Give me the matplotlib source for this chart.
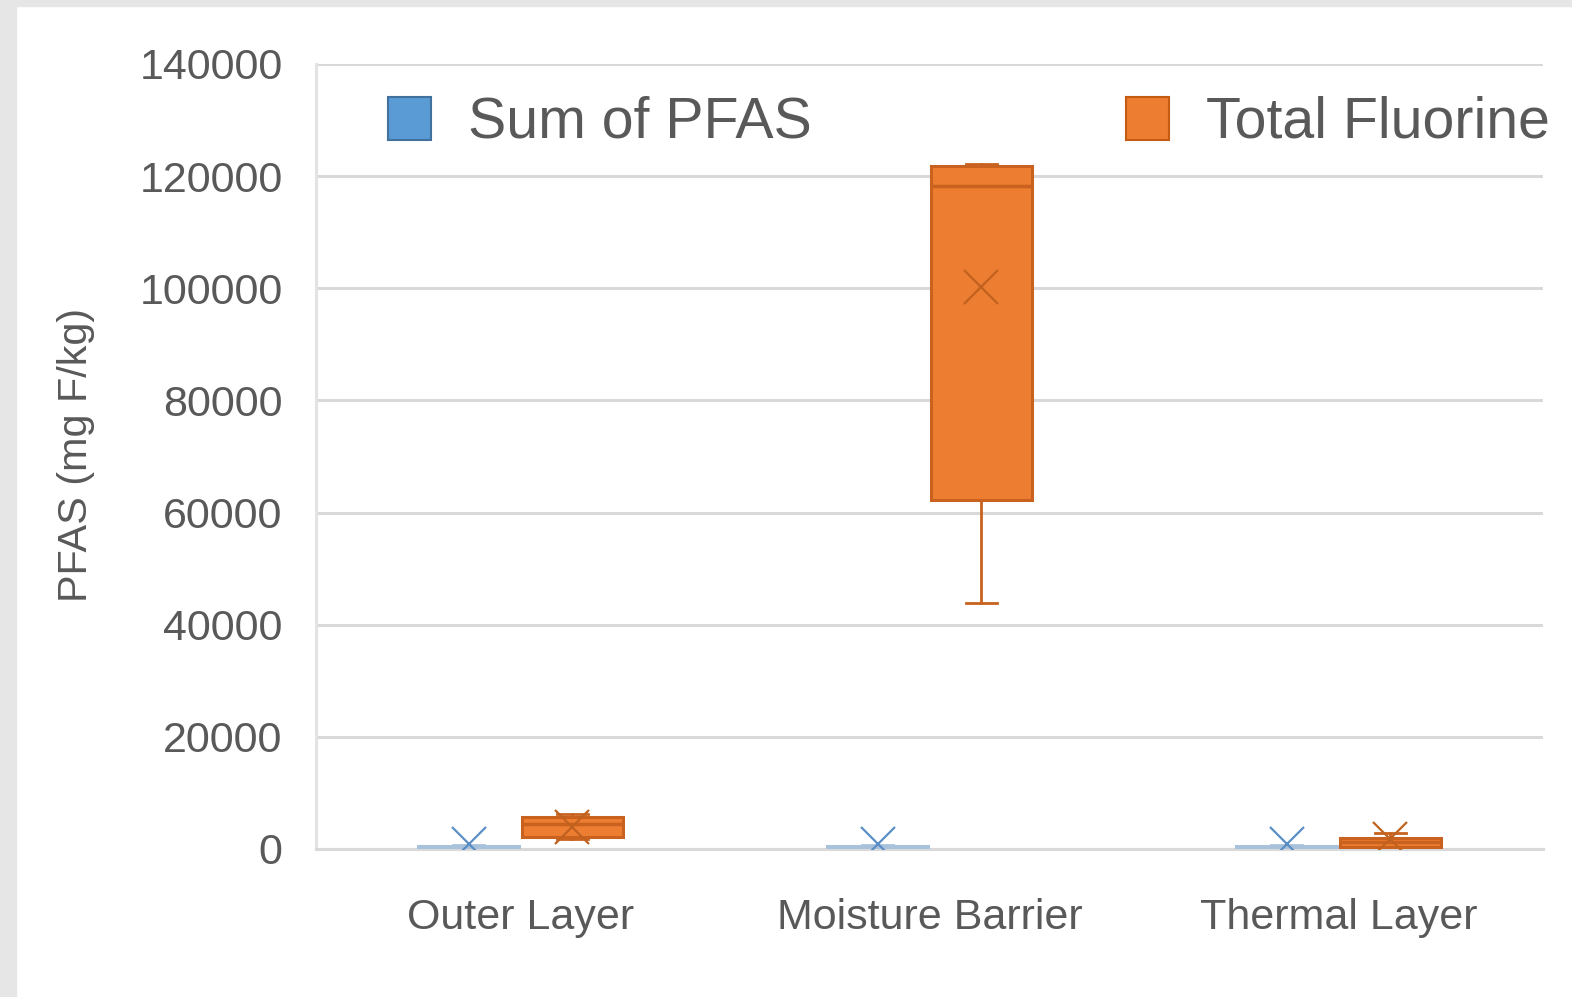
import matplotlib
matplotlib.use("Agg")
import matplotlib.pyplot as plt
from matplotlib.patches import Patch, Rectangle

# ---- data ----
categories = ["Outer Layer", "Moisture Barrier", "Thermal Layer"]
series = ["Sum of PFAS", "Total Fluorine"]
# box statistics per series: [Outer, Moisture, Thermal]
pfas_whislo = [0, 0, 0]
pfas_q1 = [100, 100, 100]
pfas_med = [250, 250, 250]
pfas_q3 = [500, 500, 500]
pfas_whishi = [700, 700, 700]
pfas_mean = [900, 900, 900]

tf_whislo = [1700, 43900, 300]
tf_q1 = [2100, 62200, 400]
tf_med = [4500, 118200, 1200]
tf_q3 = [5700, 121800, 2000]
tf_whishi = [6300, 122200, 2800]
tf_mean = [3900, 100200, 1800]

yticks = [0, 20000, 40000, 60000, 80000, 100000, 120000, 140000]

plt.rcParams['font.family'] = ['Liberation Sans', 'DejaVu Sans']
W, H = 1572, 997
fig = plt.figure(figsize=(W / 100, H / 100), dpi=100)
fig.patch.set_facecolor("white")
# grey frame of the screenshot (left and top)
fig.patches.append(Rectangle((0, 0), 16 / W, 1, transform=fig.transFigure,
                             color="#e6e6e6", zorder=0))
fig.patches.append(Rectangle((0, 1 - 6 / H), 1, 6 / H, transform=fig.transFigure,
                             color="#e6e6e6", zorder=0))

ax = fig.add_axes([316 / W, 1 - 849 / H, 1227 / W, 785 / H])
ax.set_xlim(0, 3)
ax.set_ylim(0, 140000)

txt = "#595959"
grid = "#d9d9d9"

def stats(lo, q1, med, q3, hi, mean):
    out = []
    for i in range(len(lo)):
        out.append(dict(whislo=lo[i], q1=q1[i], med=med[i], q3=q3[i],
                        whishi=hi[i], mean=mean[i], fliers=[]))
    return out

bw = 0.245
off = 0.127
centers = [0.5, 1.5, 2.5]

specs = [
    (stats(pfas_whislo, pfas_q1, pfas_med, pfas_q3, pfas_whishi, pfas_mean),
     [c - off for c in centers], "#a9c2dc", "#a9c2dc", "#5b8ec5"),
    (stats(tf_whislo, tf_q1, tf_med, tf_q3, tf_whishi, tf_mean),
     [c + off for c in centers], "#ED7D31", "#C9621E", "#C0621F"),
]
for st, pos, fc, ec, mc in specs:
    ax.bxp(st, positions=pos, widths=bw, patch_artist=True, showmeans=True,
           showfliers=False, capwidths=0.075,
           boxprops=dict(facecolor=fc, edgecolor=ec, linewidth=2.2),
           medianprops=dict(color=ec, linewidth=2.5),
           whiskerprops=dict(color=ec, linewidth=2),
           capprops=dict(color=ec, linewidth=2),
           meanprops=dict(marker="x", markersize=24, markeredgecolor=mc,
                          markeredgewidth=1.6),
           manage_ticks=False, zorder=3)

ax.set_yticks(yticks)
ax.set_yticklabels([str(v) for v in yticks])
ax.set_xticks(centers)
ax.set_xticklabels(categories)
ax.tick_params(axis="y", length=0, pad=24, labelsize=31, labelcolor=txt)
ax.tick_params(axis="x", length=0, pad=35, labelsize=31, labelcolor=txt)
ax.grid(axis="y", color=grid, linewidth=2.2, zorder=0)
ax.set_axisbelow(True)
for s in ["top", "right"]:
    ax.spines[s].set_visible(False)
ax.spines["left"].set_color("#e3e3e3")
ax.spines["left"].set_linewidth(2.2)
ax.spines["bottom"].set_color(grid)
ax.spines["bottom"].set_linewidth(2.2)

fig.text(76 / W, 1 - 455 / H, "PFAS (mg F/kg)", rotation=90, ha="center",
         va="center", fontsize=29.8, color=txt)

handles = [Patch(facecolor="#5B9BD5", edgecolor="#41719C", linewidth=1.5),
           Patch(facecolor="#ED7D31", edgecolor="#C55A11", linewidth=1.5)]
leg = fig.legend(handles, series, loc="center left",
                 bbox_to_anchor=(388 / W, 1 - 123 / H), ncol=2, frameon=False,
                 fontsize=41.2, handlelength=0.75, handleheight=0.78,
                 handletextpad=0.64, columnspacing=5.5, borderpad=0,
                 borderaxespad=0)
for t in leg.get_texts():
    t.set_color(txt)

fig.savefig("out.png", dpi=100)
